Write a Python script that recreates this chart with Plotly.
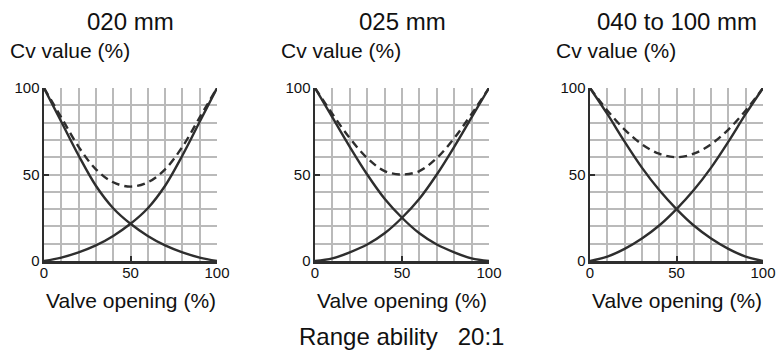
import plotly.graph_objects as go

# ---- data ----
opening = [0, 10, 20, 30, 40, 50, 60, 70, 80, 90, 100]

titles = ["020 mm", "025 mm", "040 to 100 mm"]

# increasing (one port) curve, Cv value (%)
inc_020 = [0, 2, 5, 9, 14.5, 21.5, 30.5, 43.5, 61, 80.5, 100]
inc_025 = [0, 1.5, 5, 9.5, 16, 25, 36, 50, 66, 83, 100]
inc_040 = [0, 2.5, 7, 13, 20.5, 30, 41, 54, 69, 85, 100]

# decreasing (other port) curve, Cv value (%)
dec_020 = [100, 80.5, 61, 43.5, 30.5, 21.5, 14.5, 9, 5, 2, 0]
dec_025 = [100, 83, 66, 50, 36, 25, 16, 9.5, 5, 1.5, 0]
dec_040 = [100, 85, 69, 54, 41, 30, 20.5, 13, 7, 2.5, 0]

# combined (dashed) curve, Cv value (%)
tot_020 = [100, 83, 66, 53, 45.5, 43, 45.5, 53, 66, 83, 100]
tot_025 = [100, 85, 71, 59.5, 52, 50, 52, 59.5, 71, 85, 100]
tot_040 = [100, 87, 76, 67.5, 62, 60, 62, 67.5, 76, 87, 100]

tick_vals = [0, 50, 100]
tick_text = ["0", "50", "100"]

y_label = "Cv value (%)"
x_label = "Valve opening (%)"
footer = "Range ability\u00a0\u00a0 20:1"

# ---- styling ----
W, H = 779, 352
LINE = "#2e2e2e"
GRID = "#bababa"
FONT = "Liberation Sans, Arial, sans-serif"

x_px = [(44, 217), (315, 489), (590, 763)]
y_dom = [91 / H, 264 / H]

series = [
    (inc_020, dec_020, tot_020),
    (inc_025, dec_025, tot_025),
    (inc_040, dec_040, tot_040),
]

fig = go.Figure()
for i, (inc, dec, tot) in enumerate(series):
    xa = "x" if i == 0 else f"x{i+1}"
    ya = "y" if i == 0 else f"y{i+1}"
    for ys, dash in ((tot, "8px,5px"), (dec, "solid"), (inc, "solid")):
        fig.add_trace(go.Scatter(
            x=opening, y=ys, xaxis=xa, yaxis=ya, mode="lines",
            line=dict(color=LINE, width=2.4, dash=dash, shape="spline", smoothing=1.0),
            showlegend=False, hoverinfo="skip"))

axis_common = dict(
    range=[0, 100], showline=True, linecolor=LINE, linewidth=2.5, mirror=False,
    tickmode="array", tickvals=tick_vals, ticktext=tick_text,
    ticks="inside", ticklen=5, tickwidth=2, tickcolor=LINE,
    showgrid=True, gridcolor=GRID, gridwidth=2, zeroline=False, automargin=False,
    minor=dict(dtick=10, tick0=0, showgrid=True, gridcolor=GRID, gridwidth=2, ticks=""),
    tickfont=dict(family=FONT, size=15, color="#111"), fixedrange=True,
)

layout = dict(
    width=W, height=H, margin=dict(l=0, r=0, t=0, b=0, pad=0, autoexpand=False), autosize=False,
    paper_bgcolor="white", plot_bgcolor="white",
    font=dict(family=FONT, color="#111"),
)
annotations = []
for i, (x0, x1) in enumerate(x_px):
    sx = "" if i == 0 else str(i + 1)
    layout[f"xaxis{sx}"] = dict(axis_common, domain=[x0 / W, x1 / W], anchor=f"y{sx}",
                                ticklabelstandoff=-4)
    layout[f"yaxis{sx}"] = dict(axis_common, domain=y_dom, anchor=f"x{sx}",
                                ticklabelstandoff=-1)
    cx = (x0 + x1) / 2 / W
    annotations.append(dict(text=titles[i], x=cx, y=1 - 21 / H, xref="paper", yref="paper",
                            xanchor="center", yanchor="middle", showarrow=False,
                            font=dict(family=FONT, size=24, color="#111")))
    annotations.append(dict(text=y_label, x=(x0 - 36) / W, y=1 - 50 / H, xref="paper", yref="paper",
                            xanchor="left", yanchor="middle", showarrow=False,
                            font=dict(family=FONT, size=21, color="#111")))
    annotations.append(dict(text=x_label, x=cx, y=1 - 300 / H, xref="paper", yref="paper",
                            xanchor="center", yanchor="middle", showarrow=False,
                            font=dict(family=FONT, size=21, color="#111")))
annotations.append(dict(text=footer, x=401.5 / W, y=1 - 336 / H, xref="paper", yref="paper",
                        xanchor="center", yanchor="middle", showarrow=False,
                        font=dict(family=FONT, size=24, color="#111")))
layout["annotations"] = annotations
fig.update_layout(**layout)

# the page's default 8px body margin would push the fixed-size figure off the window
fig.write_html("out.html", config={"displayModeBar": False, "staticPlot": True},
               post_script="document.body.style.margin='0px';")
